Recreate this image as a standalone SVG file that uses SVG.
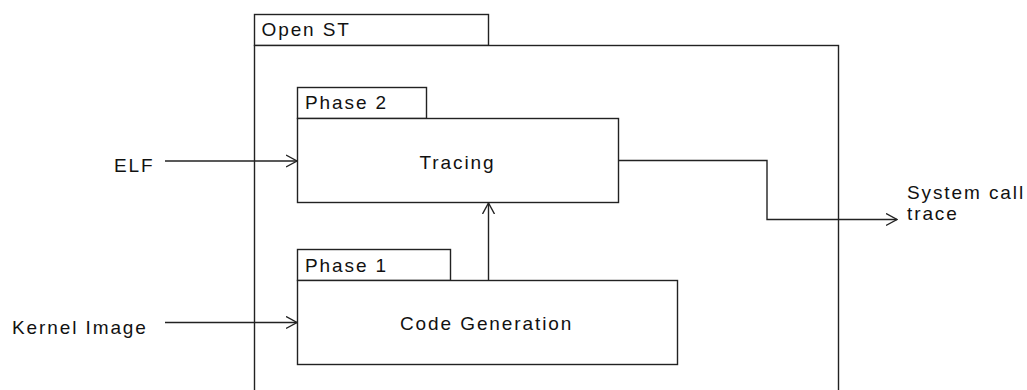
<svg xmlns="http://www.w3.org/2000/svg" width="1027" height="390" viewBox="0 0 1027 390">
<style>
.b{fill:#fff;stroke:#222;stroke-width:1.4}
.c{fill:none;stroke:#222;stroke-width:1.4}
.t{font-family:"Liberation Sans",Arial,sans-serif;font-size:19px;fill:#111;letter-spacing:1.9px}
</style>
<defs>
<marker id="ah" viewBox="0 0 12 14" refX="11" refY="7" markerWidth="12" markerHeight="14" markerUnits="userSpaceOnUse" orient="auto">
<path d="M0,1 L11,7 L0,13" fill="none" stroke="#222" stroke-width="1.4"/>
</marker>
</defs>
<rect width="1027" height="390" fill="#fff"/>
<g id="openst">
<rect class="b" x="254.5" y="14.5" width="234" height="31"/>
<rect class="b" x="254.5" y="45.5" width="584" height="360"/>
<text class="t" x="261.5" y="36">Open ST</text>
</g>
<g id="phase2">
<rect class="b" x="297.5" y="87.5" width="129" height="31"/>
<rect class="b" x="297.5" y="118.5" width="321" height="84"/>
<text class="t" x="305" y="109">Phase 2</text>
<text class="t" x="419.5" y="168.5">Tracing</text>
</g>
<g id="phase1">
<rect class="b" x="297.5" y="249.5" width="153" height="31"/>
<rect class="b" x="297.5" y="280.5" width="380" height="84"/>
<text class="t" x="305" y="271.5">Phase 1</text>
<text class="t" x="400" y="330">Code Generation</text>
</g>
<g id="inputs">
<text class="t" x="114" y="172">ELF</text>
<text class="t" x="12" y="334">Kernel Image</text>
<text class="t" x="907" y="199">System call</text>
<text class="t" x="907" y="220">trace</text>
</g>
<g id="connectors">
<path class="c" d="M165,161 H297" marker-end="url(#ah)"/>
<path class="c" d="M165,322.5 H297" marker-end="url(#ah)"/>
<path class="c" d="M488.5,280 V203" marker-end="url(#ah)"/>
<path class="c" d="M619,160.5 H767 V219.5 H897" marker-end="url(#ah)"/>
</g>
</svg>
